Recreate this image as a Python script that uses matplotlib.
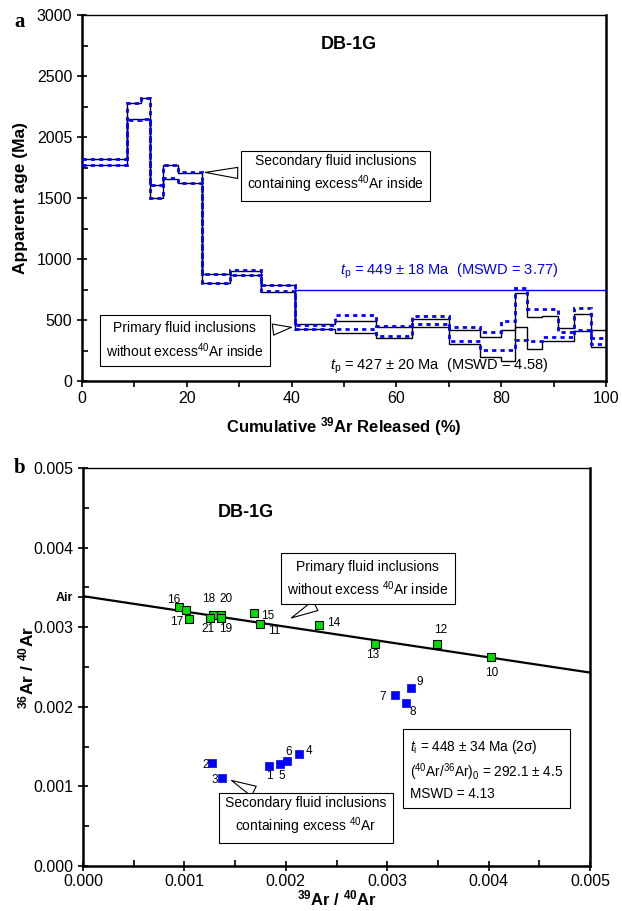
import matplotlib
matplotlib.use('Agg')
import matplotlib.pyplot as plt
from matplotlib.ticker import MultipleLocator, FixedLocator

plt.rcParams['font.family'] = ['Liberation Sans', 'DejaVu Sans']
plt.rcParams['mathtext.fontset'] = 'custom'
plt.rcParams['mathtext.rm'] = 'Liberation Sans'
plt.rcParams['mathtext.it'] = 'Liberation Sans:italic'
plt.rcParams['mathtext.bf'] = 'Liberation Sans:bold'

# ---------------- panel a : age spectrum ----------------
step_edges = [0, 8.5, 11.2, 12.9, 15.5, 18.4, 22.9, 28.2, 34.1, 40.6, 48.2, 56.2,
              63.0, 70.1, 76.0, 80.0, 82.6, 84.9, 87.8, 90.9, 93.9, 97.1, 100]
black_upper = [1817, 2275, 2317, 1607, 1770, 1707, 877, 904, 787, 467, 494, 440,
               506, 418, 358, 418, 719, 527, 533, 432, 547, 418]
black_lower = [1773, 2145, 2145, 1497, 1658, 1620, 800, 871, 732, 426, 391, 350,
               445, 300, 199, 164, 440, 259, 331, 331, 410, 281]
blue_upper = [1820, 2280, 2320, 1610, 1772, 1712, 880, 906, 790, 460, 538, 453,
              533, 445, 404, 492, 760, 588, 588, 404, 596, 352]
blue_lower = [1770, 2140, 2145, 1500, 1660, 1622, 800, 872, 735, 430, 426, 371,
              470, 331, 254, 254, 336, 331, 358, 358, 418, 300]
plateau_range = [40.6, 100]
plateau_level = [745, 745]
yticks_a = [0, 500, 1000, 1500, 2000, 2500, 3000]
ytick_labels_a = ['0', '500', '1000', '1500', '2005', '2500', '3000']
xticks_a = [0, 20, 40, 60, 80, 100]

# ---------------- panel b : isochron ----------------
green_x = [0.000944, 0.001016, 0.001048, 0.001279, 0.001358, 0.001252, 0.001358,
           0.001686, 0.001749, 0.002330, 0.002880, 0.003494, 0.004024]
green_y = [0.003250, 0.003216, 0.003099, 0.003152, 0.003152, 0.003112, 0.003112,
           0.003175, 0.003036, 0.003024, 0.002785, 0.002785, 0.002626]
green_labels = ['16', '', '17', '18', '20', '21', '19', '15', '11', '14', '13', '12', '10']
blue_x = [0.003232, 0.003077, 0.003185, 0.001275, 0.001368, 0.001834, 0.001943,
          0.002009, 0.002130]
blue_y = [0.002232, 0.002148, 0.002048, 0.001298, 0.001108, 0.001259, 0.001284,
          0.001319, 0.001403]
blue_labels = ['9', '7', '8', '2', '3', '1', '5', '6', '4']
fit_x = [0.0, 0.005]
fit_y = [0.00339, 0.00243]
air_ratio = 0.003384
ticks_b = [0.000, 0.001, 0.002, 0.003, 0.004, 0.005]
tick_labels_b = ['0.000', '0.001', '0.002', '0.003', '0.004', '0.005']

# label offsets (pixels) -- style only
green_off = [(-5, 7), (0, 0), (-13, -3), (-4, 16), (5, 16), (-2, -11), (5, -11),
             (14, -3), (14, -7), (14, 2), (-2, -11), (3, 14), (1, -16)]
blue_off = [(9, 6), (-12, -2), (7, -9), (-7, -2), (-7, -2), (0, -10), (2, -12),
            (2, 9), (10, 3)]

fig = plt.figure(figsize=(6.22, 9.11), dpi=100)

# ================= panel a =================
ax = fig.add_axes([82/622, 1-381/911, (606-82)/622, (381-15)/911])
for vals in (black_upper, black_lower):
    ax.stairs(vals, step_edges, baseline=None, color='black', lw=1.0, zorder=2)
for vals in (blue_upper, blue_lower):
    ax.stairs(vals, step_edges, baseline=None, color='#0000ff', lw=2.0,
              linestyle=(0, (1.5, 1.5)), zorder=3)
ax.plot(plateau_range, plateau_level, color='#0000ff', lw=1.0, zorder=2)

ax.set_xlim(0, 100)
ax.set_ylim(0, 3000)
ax.yaxis.set_major_locator(FixedLocator(yticks_a))
ax.set_yticklabels(ytick_labels_a)
ax.yaxis.set_minor_locator(MultipleLocator(250))
ax.set_xticks(xticks_a)
ax.xaxis.set_minor_locator(MultipleLocator(10))
ax.tick_params(axis='y', which='major', direction='inout', length=7, width=1.2, labelsize=11.5)
ax.tick_params(axis='y', which='minor', direction='in', length=4, width=1.2)
ax.tick_params(axis='x', which='both', direction='out', length=4, width=1.2, labelsize=11.5)
for s in ['left', 'bottom', 'right']:
    ax.spines[s].set_linewidth(1.8)
ax.spines['top'].set_linewidth(1.0)
ax.set_ylabel('Apparent age (Ma)', fontsize=12.5, fontweight='bold')
ax.yaxis.set_label_coords(-0.103, 0.5)
ax.set_xlabel(r'Cumulative $^{\mathbf{39}}$Ar Released (%)', fontsize=12, fontweight='bold', labelpad=6)

ax.text(51, 2755, 'DB-1G', fontsize=13, fontweight='bold', ha='center', va='center')
ax.text(70.0, 900, r'$\mathit{t}_{\mathregular{p}}$ = 449 ± 18 Ma  (MSWD = 3.77)',
        color='#0000ff', fontsize=10.5, ha='center', va='center')
ax.text(68.2, 118, r'$\mathit{t}_{\mathregular{p}}$ = 427 ± 20 Ma  (MSWD = 4.58)',
        color='black', fontsize=10.5, ha='center', va='center')

box_kw = dict(boxstyle='square,pad=0.45', fc='white', ec='black', lw=0.8)
wedge_kw = dict(arrowstyle='wedge,tail_width=0.8,shrink_factor=0.5',
                fc='white', ec='black', lw=0.8)
ax.annotate('Secondary fluid inclusions\ncontaining excess$^{\\mathregular{40}}$Ar inside',
            xy=(23.0, 1710), xytext=(48.4, 1693), fontsize=10, ha='center', va='center',
            linespacing=1.35, bbox=box_kw, arrowprops=wedge_kw)
ax.annotate('Primary fluid inclusions\nwithout excess$^{\\mathregular{40}}$Ar inside',
            xy=(40.5, 443), xytext=(19.6, 332), fontsize=10, ha='center', va='center',
            linespacing=1.35, bbox=box_kw, arrowprops=wedge_kw)

fig.text(14/622, 1-12/911, 'a', fontsize=15, fontweight='bold', family='Liberation Serif',
         ha='left', va='top')

# ================= panel b =================
bx = fig.add_axes([83/622, 1-866/911, (590-83)/622, (866-468)/911])
bx.plot(fit_x, fit_y, color='black', lw=1.6, zorder=2)
bx.plot(green_x, green_y, ls='none', marker='s', ms=6, mfc='#00dd00', mec='black',
        mew=0.8, zorder=3)
bx.plot(blue_x, blue_y, ls='none', marker='s', ms=6, mfc='#0000ff', mec='#0000ff',
        mew=0.5, zorder=3)
for x, y, lab, off in zip(green_x, green_y, green_labels, green_off):
    if lab:
        bx.annotate(lab, (x, y), xytext=off, textcoords='offset pixels', fontsize=8.5,
                    ha='center', va='center')
for x, y, lab, off in zip(blue_x, blue_y, blue_labels, blue_off):
    bx.annotate(lab, (x, y), xytext=off, textcoords='offset pixels', fontsize=8.5,
                ha='center', va='center')

bx.set_xlim(0, 0.005)
bx.set_ylim(0, 0.005)
bx.yaxis.set_major_locator(FixedLocator(ticks_b + [air_ratio]))
bx.set_yticklabels(tick_labels_b + ['Air'])
bx.yaxis.set_minor_locator(FixedLocator([0.0005, 0.0015, 0.0025, 0.0035, 0.0045]))
bx.xaxis.set_major_locator(FixedLocator(ticks_b))
bx.set_xticklabels(tick_labels_b)
bx.xaxis.set_minor_locator(FixedLocator([0.0005, 0.0015, 0.0025, 0.0035, 0.0045]))
bx.tick_params(axis='y', which='major', direction='inout', length=7, width=1.2, labelsize=11.5)
bx.tick_params(axis='y', which='minor', direction='in', length=4, width=1.2)
bx.tick_params(axis='x', which='major', direction='inout', length=7, width=1.2, labelsize=11.5,
               pad=2)
bx.tick_params(axis='x', which='minor', direction='in', length=4, width=1.2)
air_lab = bx.get_yticklabels()[-1]
air_lab.set_fontweight('bold')
air_lab.set_fontsize(9)
for s in ['left', 'bottom', 'right']:
    bx.spines[s].set_linewidth(1.8)
bx.spines['top'].set_linewidth(1.0)
bx.set_ylabel(r'$^{\mathbf{36}}$Ar / $^{\mathbf{40}}$Ar', fontsize=12.5, fontweight='bold')
bx.yaxis.set_label_coords(-0.091, 0.5)
bx.set_xlabel(r'$^{\mathbf{39}}$Ar / $^{\mathbf{40}}$Ar', fontsize=12, fontweight='bold', labelpad=0)

bx.text(0.00161, 0.00444, 'DB-1G', fontsize=13, fontweight='bold', ha='center', va='center')
bx.annotate('Primary fluid inclusions\nwithout excess $^{\\mathregular{40}}$Ar inside',
            xy=(0.00203, 0.00310), xytext=(0.00281, 0.00361), fontsize=10, ha='center',
            va='center', linespacing=1.35, bbox=box_kw, arrowprops=wedge_kw)
bx.annotate('Secondary fluid inclusions\ncontaining excess $^{\\mathregular{40}}$Ar',
            xy=(0.00144, 0.00109), xytext=(0.00220, 0.00062), fontsize=10, ha='center',
            va='center', linespacing=1.35, bbox=box_kw, arrowprops=wedge_kw)
bx.text(0.00322, 0.00121,
        '$\\mathit{t}_{\\mathregular{i}}$ = 448 ± 34 Ma (2σ)\n'
        '($^{\\mathregular{40}}$Ar/$^{\\mathregular{36}}$Ar)$_{\\mathregular{0}}$ = 292.1 ± 4.5\n'
        'MSWD = 4.13',
        fontsize=9.8, ha='left', va='center', linespacing=1.35,
        bbox=dict(boxstyle='square,pad=0.5', fc='white', ec='black', lw=0.8))

fig.text(14/622, 1-458/911, 'b', fontsize=15, fontweight='bold', family='Liberation Serif',
         ha='left', va='top')

fig.savefig('out.png', dpi=100)
